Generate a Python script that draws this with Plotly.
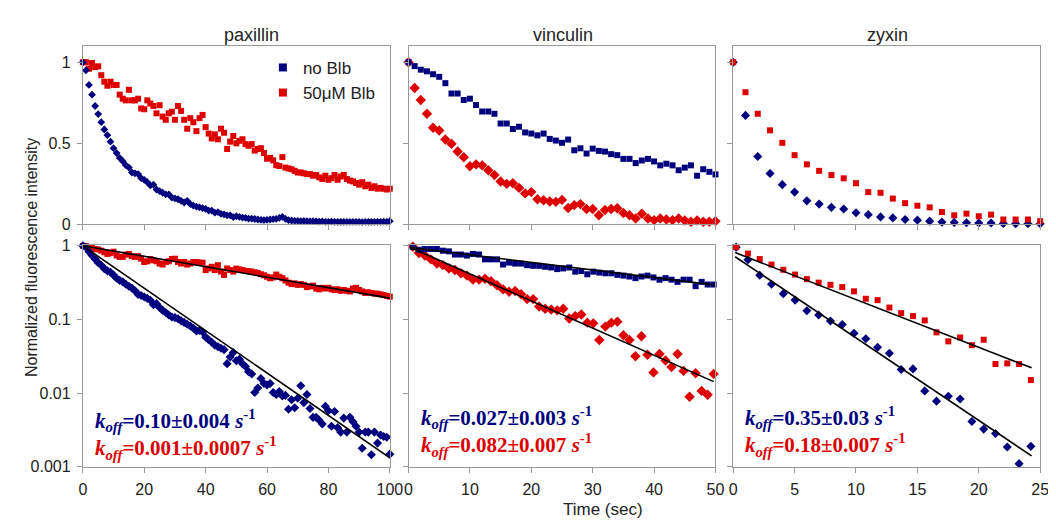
import plotly.graph_objects as go

# ---------------- data ----------------
BLUE = "#00007F"
RED = "#DD0000"

# paxillin (0..100 s, 1 s frames)
pax_time = list(range(101))
pax_top_blue = [1.00,0.95,0.86,0.80,0.73,0.68,0.63,0.585,0.55,0.51,
 0.47,0.44,0.41,0.39,0.365,0.35,0.32,0.315,0.31,0.285,
 0.275,0.26,0.24,0.245,0.215,0.205,0.195,0.185,0.185,0.165,
 0.16,0.155,0.145,0.135,0.145,0.125,0.115,0.11,0.105,0.10,
 0.095,0.085,0.085,0.072,0.075,0.065,0.062,0.056,0.056,0.045,
 0.050,0.046,0.042,0.040,0.036,0.035,0.033,0.030,0.028,0.026,
 0.028,0.030,0.032,0.034,0.040,0.046,0.034,0.026,0.024,0.022,
 0.022,0.020,0.022,0.020,0.019,0.020,0.018,0.017,0.018,0.016,
 0.016,0.017,0.016,0.015,0.016,0.015,0.016,0.015,0.016,0.015,
 0.016,0.014,0.016,0.015,0.016,0.015,0.016,0.015,0.017,0.016,
 0.020]
pax_top_red = [1.00,1.00,0.96,0.995,0.97,0.975,0.92,0.88,0.855,0.88,
 0.86,0.86,0.80,0.775,0.765,0.83,0.765,0.765,0.775,0.715,
 0.71,0.765,0.745,0.73,0.685,0.735,0.665,0.645,0.685,0.695,
 0.645,0.73,0.70,0.645,0.59,0.655,0.63,0.575,0.655,0.675,
 0.60,0.56,0.53,0.555,0.525,0.59,0.565,0.465,0.51,0.545,
 0.50,0.515,0.525,0.495,0.485,0.495,0.455,0.465,0.47,0.44,
 0.405,0.41,0.395,0.365,0.36,0.415,0.35,0.345,0.34,0.33,
 0.32,0.32,0.315,0.31,0.31,0.30,0.305,0.29,0.28,0.30,
 0.275,0.285,0.305,0.275,0.295,0.305,0.28,0.27,0.265,0.255,
 0.245,0.26,0.235,0.245,0.225,0.235,0.22,0.225,0.22,0.215,
 0.22]
pax_log_blue = [1.0,0.955,0.83,0.74,0.66,0.59,0.545,0.49,0.457,0.437,
 0.40,0.363,0.339,0.324,0.30,0.282,0.266,0.245,0.219,0.211,
 0.202,0.193,0.182,0.158,0.164,0.145,0.132,0.124,0.115,0.108,
 0.106,0.102,0.0955,0.0912,0.0861,0.0813,0.0759,0.070,0.0708,0.0676,
 0.0575,0.0531,0.049,0.0447,0.0427,0.0407,0.0389,0.0251,0.0309,0.0355,
 0.0275,0.0288,0.0251,0.0229,0.0195,0.0182,0.0102,0.0117,0.0158,0.0135,
 0.0129,0.0135,0.0102,0.00955,0.0105,0.00912,0.0093,0.00603,0.00813,0.00631,
 0.00851,0.0126,0.00741,0.00955,0.00617,0.00468,0.00468,0.00427,0.0038,0.00661,
 0.00575,0.00355,0.00562,0.00339,0.00295,0.00457,0.00295,0.00468,0.00407,0.00355,
 0.00295,0.00178,0.00295,0.00295,0.00145,0.00295,0.00209,0.00269,0.00257,0.00251,
 0.00148]
pax_log_red = [1.0,0.99,0.955,0.955,0.904,0.891,0.859,0.817,0.776,0.802,
 0.832,0.741,0.708,0.708,0.759,0.776,0.724,0.708,0.724,0.668,
 0.603,0.617,0.661,0.635,0.617,0.575,0.557,0.603,0.617,0.661,
 0.668,0.603,0.575,0.603,0.557,0.575,0.603,0.603,0.592,0.589,
 0.468,0.493,0.519,0.468,0.546,0.447,0.403,0.493,0.468,0.447,
 0.49,0.479,0.468,0.457,0.452,0.447,0.437,0.427,0.411,0.398,
 0.38,0.363,0.372,0.407,0.38,0.363,0.339,0.316,0.302,0.309,
 0.295,0.302,0.295,0.275,0.282,0.288,0.263,0.257,0.269,0.263,
 0.269,0.257,0.251,0.257,0.245,0.251,0.245,0.24,0.263,0.269,
 0.251,0.24,0.229,0.234,0.229,0.224,0.224,0.219,0.214,0.209,
 0.204]
pax_fit_time = [0, 100]
pax_fit_blue = [1.0, 0.00132]
pax_fit_red = [1.0, 0.195]

# vinculin (0..50 s)
vin_time = list(range(51))
vin_top_blue = [1.0,0.976,0.954,0.944,0.926,0.91,0.871,0.807,0.807,0.767,
 0.775,0.736,0.696,0.696,0.682,0.622,0.622,0.588,0.602,0.567,
 0.56,0.549,0.56,0.527,0.517,0.503,0.523,0.457,0.469,0.437,
 0.467,0.453,0.449,0.433,0.427,0.404,0.404,0.378,0.394,0.404,
 0.388,0.364,0.374,0.364,0.334,0.35,0.364,0.30,0.34,0.324,
 0.308]
vin_top_red = [1.0,0.841,0.767,0.682,0.596,0.579,0.523,0.497,0.449,0.414,
 0.358,0.37,0.364,0.334,0.304,0.264,0.25,0.254,0.225,0.191,
 0.199,0.155,0.149,0.141,0.139,0.151,0.101,0.119,0.125,0.095,
 0.095,0.056,0.089,0.095,0.099,0.07,0.056,0.036,0.066,0.036,
 0.026,0.036,0.03,0.026,0.036,0.024,0.016,0.024,0.016,0.016,
 0.02]
vin_log_start, vin_log_step = 0.7, 0.98
vin_log_time = [round(vin_log_start + vin_log_step * i, 2) for i in range(51)]
vin_log_blue = [0.97,0.885,0.904,0.904,0.904,0.859,0.841,0.762,0.762,0.738,
 0.776,0.762,0.655,0.655,0.655,0.557,0.592,0.574,0.574,0.546,
 0.535,0.535,0.519,0.508,0.483,0.493,0.508,0.446,0.455,0.411,
 0.446,0.433,0.424,0.424,0.403,0.394,0.383,0.364,0.383,0.394,
 0.372,0.347,0.364,0.347,0.324,0.347,0.347,0.283,0.324,0.298,0.298]
vin_log_red = [0.97,0.80,0.738,0.655,0.574,0.546,0.493,0.469,0.424,0.394,
 0.347,0.347,0.357,0.33,0.292,0.256,0.238,0.243,0.22,0.189,
 0.189,0.15,0.14,0.136,0.133,0.14,0.103,0.111,0.117,0.0904,
 0.0885,0.0525,0.08,0.0904,0.0933,0.061,0.0525,0.0316,0.0592,0.0331,
 0.0191,0.0339,0.0277,0.0226,0.0339,0.02,0.0089,0.0186,0.0107,0.0095,0.0182]
vin_fit_time = [0.3, 49.7]
vin_fit_blue = [0.95, 0.295]
vin_fit_red = [0.95, 0.0143]

# zyxin (0..25 s)
zyx_time = list(range(26))
zyx_top_blue = [1.0,0.672,0.419,0.314,0.245,0.199,0.145,0.125,0.105,0.095,
 0.072,0.06,0.046,0.04,0.03,0.026,0.02,0.014,0.012,0.01,
 0.008,0.008,0.006,0.004,0.004,0.004]
zyx_top_red = [1.0,0.815,0.682,0.58,0.503,0.427,0.37,0.33,0.304,0.284,
 0.254,0.199,0.195,0.159,0.131,0.115,0.105,0.076,0.056,0.066,
 0.05,0.06,0.03,0.03,0.03,0.02]
zyx_log_start, zyx_log_step = 0.24, 0.96
zyx_log_time = [round(zyx_log_start + zyx_log_step * i, 2) for i in range(26)]
zyx_log_blue = [0.959,0.647,0.399,0.301,0.224,0.183,0.131,0.115,0.0951,0.0851,
 0.0647,0.0546,0.042,0.0347,0.0209,0.0213,0.0107,0.00776,0.00904,0.00832,
 0.00411,0.00324,0.00282,0.00185,0.0011,0.00189]
zyx_log_red = [0.959,0.785,0.661,0.557,0.473,0.407,0.353,0.316,0.295,0.275,
 0.241,0.191,0.183,0.145,0.122,0.111,0.097,0.0668,0.0504,0.0569,
 0.0447,0.053,0.0248,0.0253,0.0248,0.015]
zyx_fit_time = [0.16, 24.3]
zyx_fit_blue = [0.71, 0.0014]
zyx_fit_red = [0.81, 0.022]

proteins = ["paxillin", "vinculin", "zyxin"]
x_ranges = [[0, 100], [0, 50], [0, 25]]
x_dticks = [20, 10, 5]
legend_names = ["no Blb", "50\u03bcM Blb"]
koff_blue = ["0.10\u00b10.004", "0.027\u00b10.003", "0.35\u00b10.03"]
koff_red = ["0.001\u00b10.0007", "0.082\u00b10.007", "0.18\u00b10.007"]

# ---------------- layout helpers ----------------
W, H = 1056, 521
col_px = [(72, 384), (403, 715), (733, 1045)]
row_px = [(32, 216), (237, 466)]

def dom_x(c):
    return [col_px[c][0] / W, col_px[c][1] / W]

def dom_y(r):
    return [1 - row_px[r][1] / H, 1 - row_px[r][0] / H]

SANS = "Liberation Sans, Arial, sans-serif"
SERIF = "Liberation Serif, Times New Roman, serif"
GRAY = "#9a9a9a"

fig = go.Figure()

def axname(r, c):
    i = r * 3 + c + 1
    return ("x" if i == 1 else f"x{i}"), ("y" if i == 1 else f"y{i}")

def add_pts(r, c, x, y, color, symbol, size):
    xa, ya = axname(r, c)
    fig.add_trace(go.Scatter(x=x, y=y, mode="markers", xaxis=xa, yaxis=ya,
                             marker=dict(color=color, symbol=symbol, size=size, line=dict(width=0)),
                             showlegend=False, cliponaxis=False, hoverinfo="skip"))

def add_fit(c, x, y):
    xa, ya = axname(1, c)
    fig.add_trace(go.Scatter(x=x, y=y, mode="lines", xaxis=xa, yaxis=ya,
                             line=dict(color="black", width=1.6),
                             showlegend=False, hoverinfo="skip"))

# paxillin
add_pts(0, 0, pax_time, pax_top_red, RED, "square", 6)
add_pts(0, 0, pax_time, pax_top_blue, BLUE, "diamond", 6)
add_pts(1, 0, pax_time, pax_log_red, RED, "square", 6)
add_pts(1, 0, pax_time, pax_log_blue, BLUE, "diamond", 7)
add_fit(0, pax_fit_time, pax_fit_blue)
add_fit(0, pax_fit_time, pax_fit_red)
# vinculin
add_pts(0, 1, vin_time, vin_top_red, RED, "diamond", 8)
add_pts(0, 1, vin_time, vin_top_blue, BLUE, "square", 6)
add_pts(1, 1, vin_log_time, vin_log_red, RED, "diamond", 8)
add_pts(1, 1, vin_log_time, vin_log_blue, BLUE, "square", 6)
add_fit(1, vin_fit_time, vin_fit_blue)
add_fit(1, vin_fit_time, vin_fit_red)
# zyxin
add_pts(0, 2, zyx_time, zyx_top_blue, BLUE, "diamond", 7)
add_pts(0, 2, zyx_time, zyx_top_red, RED, "square", 6)
add_pts(1, 2, zyx_log_time, zyx_log_blue, BLUE, "diamond", 7)
add_pts(1, 2, zyx_log_time, zyx_log_red, RED, "square", 6)
add_fit(2, zyx_fit_time, zyx_fit_blue)
add_fit(2, zyx_fit_time, zyx_fit_red)

# legend entries
for name, color in zip(legend_names, [BLUE, RED]):
    fig.add_trace(go.Scatter(x=[None], y=[None], mode="markers", name=name,
                             marker=dict(color=color, symbol="square", size=8),
                             showlegend=True))

layout = dict(width=W, height=H, margin=dict(l=0, r=0, t=0, b=0),
              paper_bgcolor="white", plot_bgcolor="white",
              font=dict(family=SANS, size=16, color="#222"),
              legend=dict(x=255 / W, y=1 - 36 / H, xanchor="left", yanchor="top",
                          bgcolor="rgba(0,0,0,0)", font=dict(size=17, family=SANS),
                          tracegroupgap=0, itemwidth=30))

for r in range(2):
    for c in range(3):
        i = r * 3 + c + 1
        xk = "xaxis" if i == 1 else f"xaxis{i}"
        yk = "yaxis" if i == 1 else f"yaxis{i}"
        xa, ya = axname(r, c)
        layout[xk] = dict(domain=dom_x(c), range=x_ranges[c], anchor=ya,
                          tickmode="linear", tick0=0, dtick=x_dticks[c],
                          ticks="outside", ticklen=5, tickcolor=GRAY,
                          showline=True, linecolor=GRAY, linewidth=1, mirror=True,
                          showgrid=False, zeroline=False,
                          showticklabels=(r == 1), ticklabelstandoff=3,
                          tickfont=dict(size=16, family=SANS, color="#222"))
        ycfg = dict(domain=dom_y(r), anchor=xa,
                    ticks="outside", ticklen=5, tickcolor=GRAY,
                    showline=True, linecolor=GRAY, linewidth=1, mirror=True,
                    showgrid=False, zeroline=False,
                    showticklabels=(c == 0), ticklabelstandoff=3,
                    tickfont=dict(size=16, family=SANS, color="#222"))
        if r == 0:
            ycfg.update(range=[0, 1.1], tickmode="array", tickvals=[0, 0.5, 1],
                        ticktext=["0", "0.5", "1"])
        else:
            ycfg.update(type="log", range=[-3, 0.015], tickmode="array",
                        tickvals=[0.001, 0.01, 0.1, 1],
                        ticktext=["0.001", "0.01", "0.1", "1"])
        layout[yk] = ycfg

fig.update_layout(**layout)

ann = []
title_x = [243, 560, 890]
for c in range(3):
    ann.append(dict(text=proteins[c], x=title_x[c] / W, y=1 - 21 / H, xref="paper", yref="paper",
                    xanchor="center", yanchor="middle", showarrow=False,
                    font=dict(size=18, family=SANS, color="#222")))
ann.append(dict(text="Normalized fluorescence intensity", x=20 / W, y=1 - 250 / H,
                xref="paper", yref="paper", textangle=-90, xanchor="center", yanchor="middle",
                showarrow=False, font=dict(size=16, family=SANS, color="#222")))
ann.append(dict(text="Time (sec)", x=601 / W, y=1 - 510 / H, xref="paper", yref="paper",
                xanchor="center", yanchor="middle", showarrow=False,
                font=dict(size=17, family=SANS, color="#222")))

k_left = [82, 414, 743]
k_center_y = [433, 430, 430]

def koff_line(val, color):
    return (f"<span style='color:{color}'><b><i>k<sub>off</sub></i>={val} "
            f"<i>s</i><sup>-1</sup></b></span>")

for c in range(3):
    ann.append(dict(text=koff_line(koff_blue[c], BLUE) + "<br>" + koff_line(koff_red[c], RED),
                    x=k_left[c] / W, y=1 - k_center_y[c] / H, xref="paper", yref="paper",
                    xanchor="left", yanchor="middle", align="left", showarrow=False,
                    font=dict(size=21, family=SERIF, color=BLUE)))
fig.update_layout(annotations=ann)

fig.write_html("out.html")
